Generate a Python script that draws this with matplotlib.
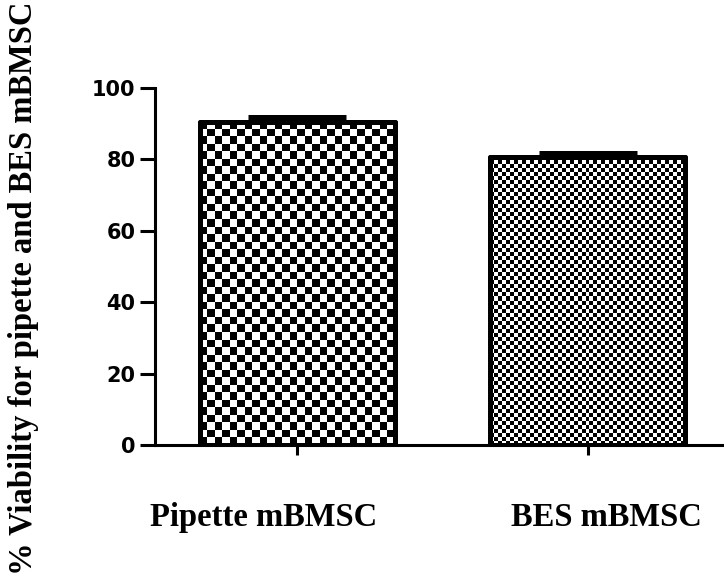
import numpy as np
import matplotlib
matplotlib.use("Agg")
import matplotlib.pyplot as plt
from matplotlib.patches import Rectangle
from matplotlib.transforms import ScaledTranslation

categories = ["Pipette mBMSC", "BES mBMSC"]
means = [90.5, 80.8]
errors = [1.5, 1.0]
yticks = [0, 20, 40, 60, 80, 100]

W, H, DPI = 724, 576, 100
fig = plt.figure(figsize=(W / DPI, H / DPI), dpi=DPI)
ax = fig.add_axes([155 / W, (H - 445) / H, (W - 155) / W, (445 - 88) / H])
ax.set_xlim(-0.49, 1.47)
ax.set_ylim(0, 100)

bar_w = 0.67
cell_px = [7.5, 4.0]  # checker cell size in pixels
px_per_x = (W - 155) / (1.47 + 0.49)
px_per_y = (445 - 88) / 100.0

for i, (m, e) in enumerate(zip(means, errors)):
    x0 = i - bar_w / 2
    ncol = max(2, int(round(bar_w * px_per_x / cell_px[i])))
    nrow = max(2, int(round(m * px_per_y / cell_px[i])))
    checker = (np.add.outer(np.arange(nrow), np.arange(ncol)) % 2).astype(float)
    rect = Rectangle((x0, 0), bar_w, m, facecolor="white", edgecolor="black",
                     linewidth=3.6, joinstyle="round", zorder=3)
    ax.add_patch(rect)
    im = ax.imshow(checker, cmap="gray", vmin=0, vmax=1, interpolation="nearest",
                   extent=(x0, x0 + bar_w, 0, m), aspect="auto", zorder=3.5,
                   origin="lower")
    im.set_clip_path(rect)
    outline = Rectangle((x0, 0), bar_w, m, facecolor="none", edgecolor="black",
                        linewidth=3.6, joinstyle="round", zorder=4)
    ax.add_patch(outline)

ax.errorbar(range(len(means)), means, yerr=[[0] * len(errors), errors], fmt="none",
            ecolor="black", elinewidth=3.6, capsize=35, capthick=3.6, zorder=5)

ax.set_xlim(-0.49, 1.47)
ax.set_ylim(0, 100)

for s in ["top", "right"]:
    ax.spines[s].set_visible(False)
ax.spines["left"].set_linewidth(2.2)
ax.spines["bottom"].set_linewidth(2.2)

ax.set_yticks(yticks)
ax.set_yticklabels([str(v) for v in yticks], fontfamily="DejaVu Sans",
                   fontweight="bold", fontsize=15)
ax.tick_params(axis="y", length=10.5, width=2.2, pad=3.5, colors="black")
ax.set_xticks(range(len(categories)))
ax.set_xticklabels(categories, fontfamily="Liberation Serif", fontweight="bold",
                   fontsize=23.5)
ax.tick_params(axis="x", length=7, width=2.2, pad=34)

# horizontal offsets of the category labels (pixels), as in the reference
offsets_px = [-34, 19]
for lab, dx in zip(ax.get_xticklabels(), offsets_px):
    lab.set_transform(lab.get_transform() +
                      ScaledTranslation(dx / DPI, 0, fig.dpi_scale_trans))

fig.text(24 / W, 0.5, "% Viability for pipette and BES mBMSC", rotation=90,
         ha="center", va="center", fontfamily="Liberation Serif",
         fontweight="bold", fontsize=23.5)

fig.savefig("out.png", dpi=DPI)
